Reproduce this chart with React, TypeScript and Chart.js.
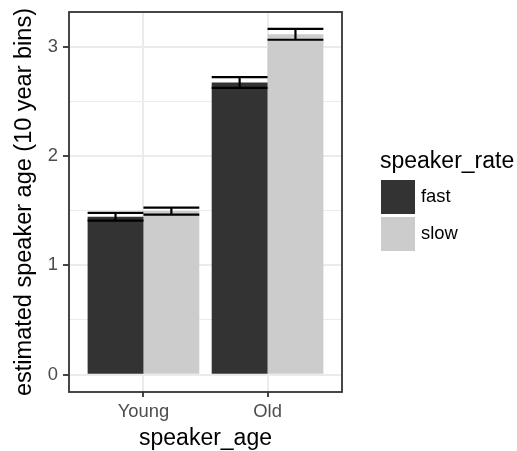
import React, { useEffect, useRef } from 'react';
import { Chart, registerables } from 'chart.js';

Chart.register(...registerables);

const categories = ['Young', 'Old'];
const seriesNames = ['fast', 'slow'];
const fastMeans = [1.445, 2.674];
const slowMeans = [1.497, 3.115];
const fastErr = [0.035, 0.049];
const slowErr = [0.032, 0.05];
const yTickValues = [0, 1, 2, 3];
const yMinorValues = [0.5, 1.5, 2.5];
const seriesColors = ['#333333', '#cccccc'];
const yRange = [-0.159, 3.319];

const FONT = "'Liberation Sans', Arial, Helvetica, sans-serif";

const errArrays = [fastErr, slowErr];

const panelPlugin = {
  id: 'panelExtras',
  afterDatasetsDraw(chart: any) {
    const ctx = chart.ctx;
    const y = chart.scales.y;
    ctx.save();
    ctx.strokeStyle = '#000000';
    ctx.lineWidth = 2.2;
    chart.data.datasets.forEach((ds: any, di: number) => {
      const meta = chart.getDatasetMeta(di);
      meta.data.forEach((bar: any, i: number) => {
        const { x, width } = bar.getProps(['x', 'width'], true);
        const v = ds.data[i];
        const e = errArrays[di][i];
        const yHi = y.getPixelForValue(v + e);
        const yLo = y.getPixelForValue(v - e);
        const l = x - width / 2;
        const r = x + width / 2;
        ctx.beginPath();
        ctx.moveTo(l, yHi);
        ctx.lineTo(r, yHi);
        ctx.moveTo(l, yLo);
        ctx.lineTo(r, yLo);
        ctx.moveTo(x, yHi);
        ctx.lineTo(x, yLo);
        ctx.stroke();
      });
    });
    const a = chart.chartArea;
    ctx.strokeStyle = '#333333';
    ctx.lineWidth = 1.8;
    ctx.strokeRect(a.left, a.top, a.right - a.left, a.bottom - a.top);
    ctx.restore();
  },
  afterDraw(chart: any) {
    const ctx = chart.ctx;
    ctx.save();
    ctx.fillStyle = '#000000';
    ctx.font = `23px ${FONT}`;
    ctx.textAlign = 'left';
    ctx.textBaseline = 'alphabetic';
    ctx.fillText('speaker_rate', 380, 168);
    chart.data.datasets.forEach((ds: any, di: number) => {
      const top = 180 + di * 37;
      ctx.fillStyle = ds.backgroundColor;
      ctx.fillRect(381, top, 34, 34);
      ctx.fillStyle = '#000000';
      ctx.font = `18.4px ${FONT}`;
      ctx.textBaseline = 'middle';
      ctx.fillText(ds.label, 421, top + 17);
    });
    ctx.restore();
  },
};

export default function App() {
  const canvasRef = useRef<HTMLCanvasElement | null>(null);

  useEffect(() => {
    if (!canvasRef.current) return;
    const isMajor = (v: number) => yTickValues.includes(v);
    const chart = new Chart(canvasRef.current, {
      type: 'bar',
      data: {
        labels: categories,
        datasets: [
          { label: seriesNames[0], data: fastMeans, backgroundColor: seriesColors[0], borderWidth: 0 },
          { label: seriesNames[1], data: slowMeans, backgroundColor: seriesColors[1], borderWidth: 0 },
        ],
      },
      options: {
        responsive: false,
        animation: false,
        devicePixelRatio: 1,
        layout: { padding: { left: 0, top: 12, right: 175, bottom: 0 } },
        plugins: { legend: { display: false }, tooltip: { enabled: false } },
        datasets: { bar: { categoryPercentage: 0.9, barPercentage: 1.0 } },
        scales: {
          x: {
            type: 'category',
            offset: true,
            afterBuildTicks(scale: any) {
              scale._startValue = -0.6;
              scale._valueRange = 2.2;
            },
            afterFit(scale: any) {
              scale.height = 59;
              scale.paddingLeft = 0;
              scale.paddingRight = 0;
            },
            grid: {
              offset: false,
              color: '#ebebeb',
              lineWidth: 2,
              tickColor: '#333333',
              tickWidth: 1.8,
              tickLength: 5,
            },
            border: { display: false },
            ticks: {
              autoSkip: false,
              maxRotation: 0,
              color: '#4d4d4d',
              font: { family: FONT, size: 18.4 },
              padding: 4,
            },
            title: {
              display: true,
              text: 'speaker_age',
              color: '#000000',
              font: { family: FONT, size: 23, lineHeight: 1.05 },
              padding: { top: 0, bottom: 0 },
            },
          },
          y: {
            type: 'linear',
            min: yRange[0],
            max: yRange[1],
            afterBuildTicks(scale: any) {
              const vals = [...yTickValues, ...yMinorValues].sort((a, b) => a - b);
              scale.ticks = vals.map((v) => ({ value: v }));
            },
            afterFit(scale: any) {
              scale.width = 69;
              scale.paddingTop = 0;
              scale.paddingBottom = 0;
            },
            grid: {
              color: '#ebebeb',
              lineWidth: (c: any) => (isMajor(c.tick?.value) ? 2 : 1),
              tickColor: (c: any) => (isMajor(c.tick?.value) ? '#333333' : 'rgba(0,0,0,0)'),
              tickWidth: 1.8,
              tickLength: 6,
            },
            border: { display: false },
            ticks: {
              autoSkip: false,
              color: '#4d4d4d',
              font: { family: FONT, size: 18.4 },
              padding: 5,
              callback: (v: any) => (isMajor(Number(v)) ? String(v) : ''),
            },
            title: {
              display: true,
              text: 'estimated speaker age (10 year bins)',
              color: '#000000',
              font: { family: FONT, size: 23.5 },
              padding: { top: 10.5, bottom: 0 },
            },
          },
        },
      },
      plugins: [panelPlugin],
    } as any);
    return () => chart.destroy();
  }, []);

  return (
    <div style={{ position: 'absolute', left: 0, top: 0, width: 517, height: 451, background: '#ffffff' }}>
      <canvas ref={canvasRef} width={517} height={451} style={{ display: 'block' }} />
    </div>
  );
}
